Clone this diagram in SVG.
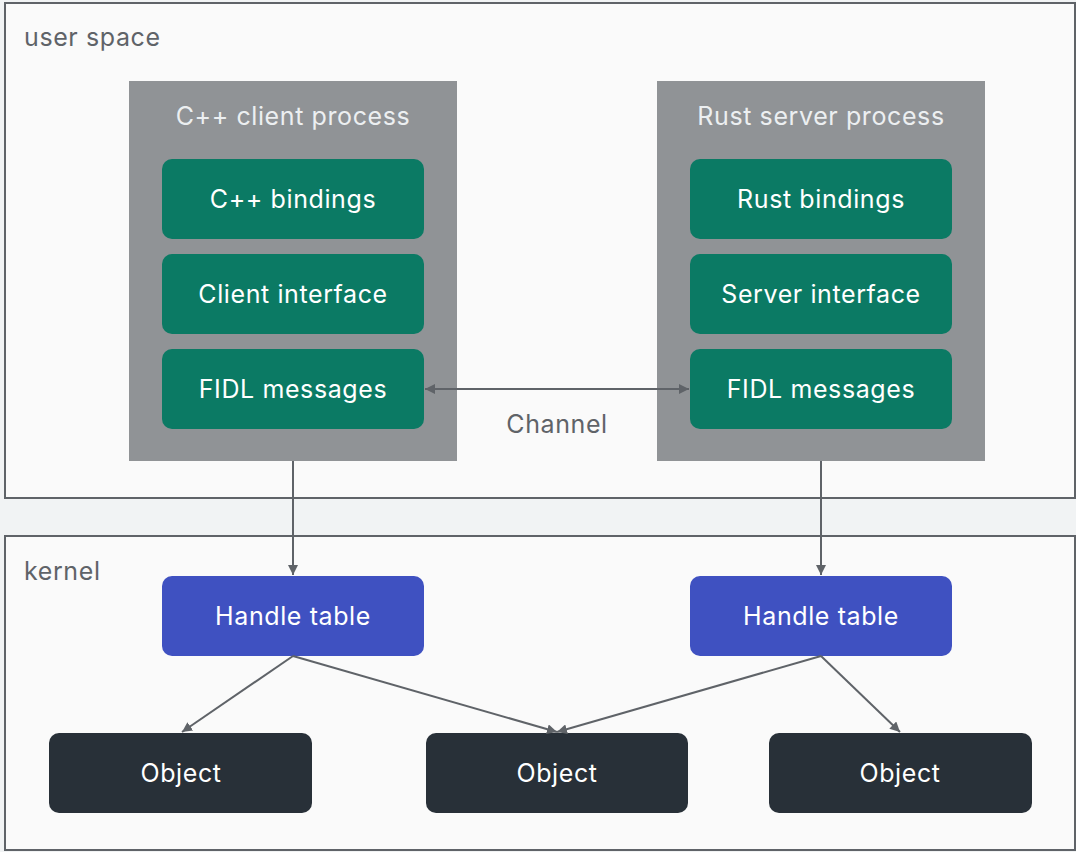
<svg xmlns="http://www.w3.org/2000/svg" width="1076" height="852" viewBox="0 0 1076 852">
  <style>
    .zone { fill: #fafafa; stroke: #5f6368; stroke-width: 2; }
    text { font-family: Inter, "Open Sans", sans-serif; font-size: 25px; letter-spacing: 0.6px; }
    .zlabel { fill: #5f6368; }
    .proc { fill: #909396; }
    .ptitle { fill: #eceff1; text-anchor: middle; }
    .green { fill: #0b7a64; }
    .blue { fill: #3f51c1; }
    .dark { fill: #283038; }
    .lbl { fill: #ffffff; text-anchor: middle; }
    .conn { stroke: #5f6368; stroke-width: 2; fill: none; }
  </style>
  <defs>
    <marker id="arr" viewBox="0 0 10 10" refX="10" refY="5" markerWidth="10" markerHeight="10" markerUnits="userSpaceOnUse" orient="auto-start-reverse">
      <path d="M0,0 L10,5 L0,10 z" fill="#5f6368"/>
    </marker>
  </defs>

  <rect x="0" y="0" width="1076" height="852" fill="#f1f3f4"/>

  <g id="user-space">
    <rect class="zone" x="5" y="3" width="1070" height="495"/>
    <text class="zlabel" x="24" y="46">user space</text>
  </g>

  <g id="kernel">
    <rect class="zone" x="5" y="536" width="1070" height="314"/>
    <text class="zlabel" x="24" y="580">kernel</text>
  </g>

  <g id="client-process">
    <rect class="proc" x="129" y="81" width="328" height="380"/>
    <text class="ptitle" x="293" y="125">C++ client process</text>
  </g>
  <g id="server-process">
    <rect class="proc" x="657" y="81" width="328" height="380"/>
    <text class="ptitle" x="821" y="125">Rust server process</text>
  </g>

  <g id="cpp-bindings">
    <rect class="green" x="162" y="159" width="262" height="80" rx="10"/>
    <text class="lbl" x="293" y="208">C++ bindings</text>
  </g>
  <g id="client-interface">
    <rect class="green" x="162" y="254" width="262" height="80" rx="10"/>
    <text class="lbl" x="293" y="303">Client interface</text>
  </g>
  <g id="client-fidl">
    <rect class="green" x="162" y="349" width="262" height="80" rx="10"/>
    <text class="lbl" x="293" y="398">FIDL messages</text>
  </g>

  <g id="rust-bindings">
    <rect class="green" x="690" y="159" width="262" height="80" rx="10"/>
    <text class="lbl" x="821" y="208">Rust bindings</text>
  </g>
  <g id="server-interface">
    <rect class="green" x="690" y="254" width="262" height="80" rx="10"/>
    <text class="lbl" x="821" y="303">Server interface</text>
  </g>
  <g id="server-fidl">
    <rect class="green" x="690" y="349" width="262" height="80" rx="10"/>
    <text class="lbl" x="821" y="398">FIDL messages</text>
  </g>

  <g id="handle-left">
    <rect class="blue" x="162" y="576" width="262" height="80" rx="10"/>
    <text class="lbl" x="293" y="625">Handle table</text>
  </g>
  <g id="handle-right">
    <rect class="blue" x="690" y="576" width="262" height="80" rx="10"/>
    <text class="lbl" x="821" y="625">Handle table</text>
  </g>

  <g id="object-1">
    <rect class="dark" x="49" y="733" width="263" height="80" rx="10"/>
    <text class="lbl" x="181" y="782">Object</text>
  </g>
  <g id="object-2">
    <rect class="dark" x="426" y="733" width="262" height="80" rx="10"/>
    <text class="lbl" x="557" y="782">Object</text>
  </g>
  <g id="object-3">
    <rect class="dark" x="769" y="733" width="263" height="80" rx="10"/>
    <text class="lbl" x="900" y="782">Object</text>
  </g>

  <g id="connectors">
    <line class="conn" x1="425" y1="389" x2="689" y2="389" marker-start="url(#arr)" marker-end="url(#arr)"/>
    <text class="zlabel" x="557" y="433" text-anchor="middle">Channel</text>
    <line class="conn" x1="293" y1="461" x2="293" y2="575" marker-end="url(#arr)"/>
    <line class="conn" x1="821" y1="461" x2="821" y2="575" marker-end="url(#arr)"/>
    <line class="conn" x1="293" y1="656" x2="182" y2="732" marker-end="url(#arr)"/>
    <line class="conn" x1="293" y1="656" x2="557" y2="732" marker-end="url(#arr)"/>
    <line class="conn" x1="821" y1="656" x2="557" y2="732" marker-end="url(#arr)"/>
    <line class="conn" x1="821" y1="656" x2="900" y2="732" marker-end="url(#arr)"/>
  </g>
</svg>
